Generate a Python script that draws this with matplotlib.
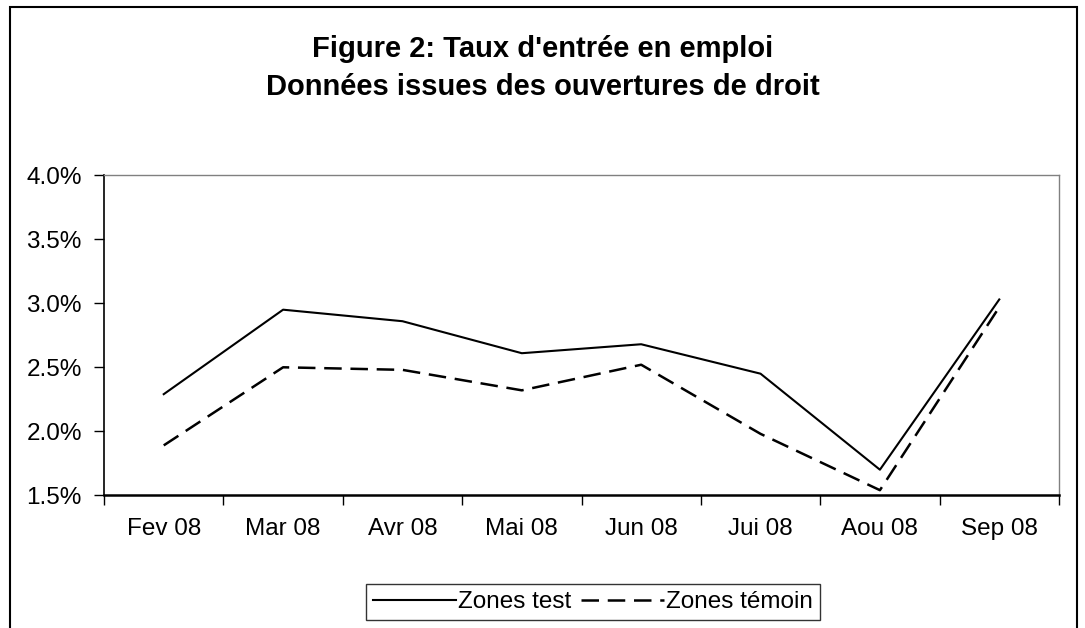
import numpy as np
import matplotlib.pyplot as plt
from matplotlib.patches import Rectangle

months = ['Fev 08', 'Mar 08', 'Avr 08', 'Mai 08', 'Jun 08', 'Jui 08', 'Aou 08', 'Sep 08']
zones_test = [2.29, 2.95, 2.86, 2.61, 2.68, 2.45, 1.70, 3.03]
zones_temoin = [1.89, 2.50, 2.48, 2.32, 2.52, 1.98, 1.54, 2.97]
yticks = [1.5, 2.0, 2.5, 3.0, 3.5, 4.0]

plt.rcParams['font.family'] = ['Liberation Sans', 'DejaVu Sans']

fig = plt.figure(figsize=(10.85, 6.28), dpi=100)
ax = fig.add_axes([0.0959, 0.2113, 0.8801, 0.5096])

x = np.arange(len(months))
ax.plot(x, zones_test, color='black', lw=1.5, label='Zones test')
ax.plot(x, zones_temoin, color='black', lw=1.8, dashes=(7, 3.5), label='Zones témoin')

ax.set_xlim(-0.5, len(months) - 0.5)
ax.set_ylim(1.5, 4.0)
ax.set_yticks(yticks)
ax.set_yticklabels([f'{v:.1f}%' for v in yticks], fontsize=17.5)

# ticks on category boundaries, labels at centers
ax.set_xticks(np.arange(-0.5, len(months)), labels=[''] * (len(months) + 1))
ax.set_xticks(x, labels=months, minor=True, fontsize=17.5)
ax.tick_params(axis='x', which='major', length=7, width=1, direction='out')
ax.tick_params(axis='x', which='minor', length=0, pad=16)
ax.tick_params(axis='y', length=7, width=1, direction='out', pad=9)

for s in ['top', 'right']:
    ax.spines[s].set_color('#808080')
    ax.spines[s].set_linewidth(1)
ax.spines['left'].set_linewidth(1.2)
ax.spines['bottom'].set_linewidth(1.8)

fig.text(0.5005, 0.922, "Figure 2: Taux d'entrée en emploi", ha='center', va='center',
         fontsize=21, fontweight='bold')
fig.text(0.5005, 0.861, "Données issues des ouvertures de droit", ha='center', va='center',
         fontsize=21, fontweight='bold')

leg = fig.legend(loc='center', bbox_to_anchor=(0.5466, 0.0414), ncol=2, fontsize=17.5,
                 frameon=True, fancybox=False, handlelength=3.4, handletextpad=0.1,
                 columnspacing=0.4, borderpad=0.3, borderaxespad=0)
leg.get_frame().set_edgecolor('black')
leg.get_frame().set_linewidth(1)

# chart area border
fig.patches.append(Rectangle((10 / 1085, -0.1), 1067 / 1085, 1.1 - 7 / 628,
                             transform=fig.transFigure, fill=False,
                             edgecolor='black', lw=1.5))

fig.savefig('out.png', dpi=100)
